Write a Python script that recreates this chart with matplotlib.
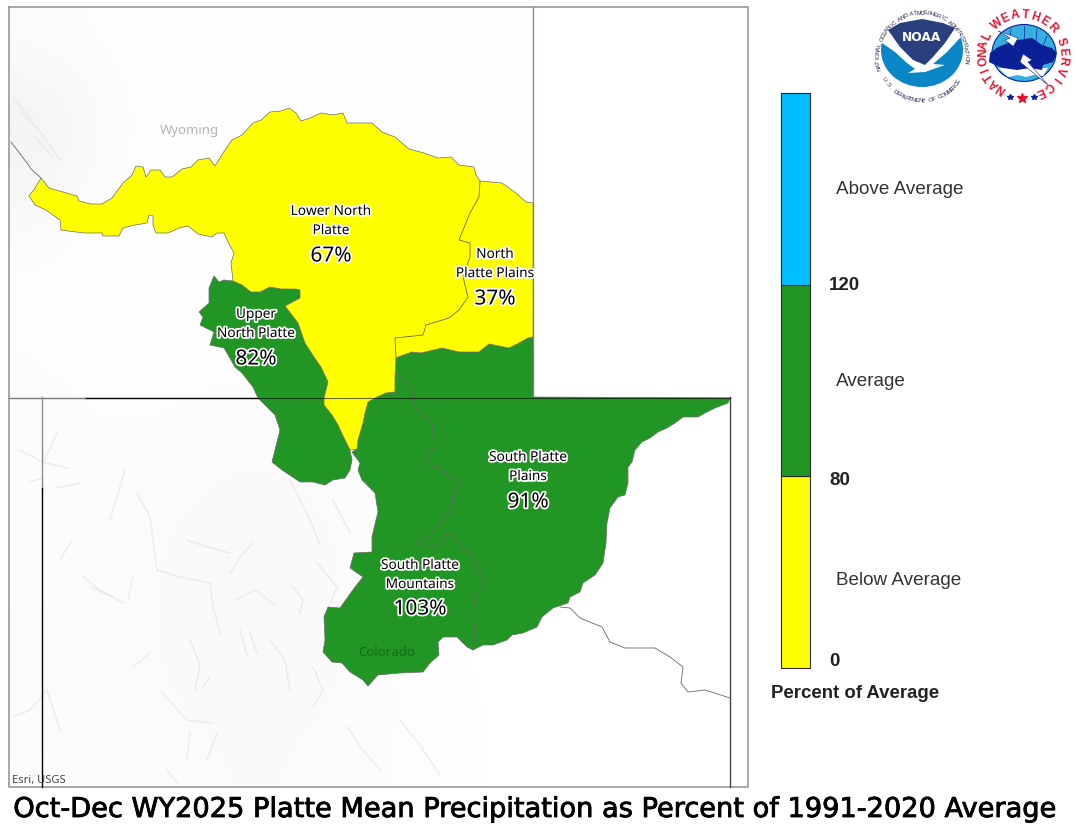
import numpy as np
import matplotlib
matplotlib.use("Agg")
import matplotlib.pyplot as plt
import matplotlib.patheffects as pe
from matplotlib.patches import Polygon, Ellipse

# basin outlines, in image pixels
lower_north_platte = [(41,178),(49,188),(63,192),(77,196),(79,201),(91,204),(102,204),(112,198),(123,183),(132,175),(136,166),(143,167),(146,177),(151,170),(160,170),(165,177),(172,177),(182,169),(191,167),(198,160),(209,158),(215,166),(223,153),(232,140),(242,135),(253,123),(261,120),(270,112),(281,111),(289,108),(296,113),(301,121),(310,118),(321,113),(333,115),(343,113),(347,123),(372,123),(382,132),(395,137),(409,149),(424,153),(438,158),(451,157),(459,165),(474,167),(476,175),(480,181),(502,183),(516,193),(526,202),(533,203),(533,337),(528,338),(519,343),(509,348),(489,344),(479,352),(459,352),(442,348),(421,353),(412,352),(398,357),(396,358),(395,377),(395,392),(386,393),(377,397),(368,402),(365,413),(363,423),(358,440),(357,449),(350,450),(345,440),(338,425),(332,415),(324,405),(324,398),(328,382),(321,367),(314,357),(305,343),(298,323),(285,306),(300,298),(300,290),(296,289),(281,289),(270,287),(260,292),(251,292),(242,285),(233,281),(231,263),(234,253),(228,242),(224,233),(217,233),(212,237),(198,234),(188,226),(179,228),(168,233),(156,233),(153,225),(153,216),(149,215),(147,223),(135,225),(123,228),(119,236),(103,236),(102,233),(84,233),(61,230),(60,220),(46,210),(35,205),(29,196),(35,188)]
upper_north_platte = [(214,276),(219,282),(224,280),(233,281),(242,285),(251,292),(260,292),(270,287),(281,289),(296,289),(300,290),(300,298),(285,306),(298,323),(305,343),(314,357),(321,367),(328,382),(324,398),(324,405),(332,415),(338,425),(345,440),(350,450),(352,460),(350,470),(345,478),(333,480),(325,485),(313,482),(300,482),(282,470),(272,462),(275,450),(280,430),(275,415),(265,405),(258,398),(253,387),(242,373),(235,367),(224,348),(210,345),(214,332),(200,325),(203,317),(199,312),(209,303),(209,288)]
south_platte = [(396,358),(398,357),(412,352),(421,353),(442,348),(459,352),(479,352),(489,344),(509,348),(519,343),(528,338),(533,337),(533,397),(730,398),(728,403),(715,408),(705,413),(698,417),(683,417),(675,423),(667,428),(658,432),(650,438),(642,442),(635,450),(632,462),(628,467),(628,483),(625,495),(618,497),(610,508),(607,523),(606,543),(603,563),(595,575),(583,583),(580,592),(570,597),(568,603),(553,608),(542,617),(537,627),(523,633),(512,635),(507,640),(493,645),(483,645),(473,650),(467,647),(457,637),(443,637),(438,642),(439,655),(430,663),(423,672),(400,673),(378,675),(368,686),(363,680),(350,672),(342,663),(332,662),(323,652),(325,640),(324,617),(328,607),(340,608),(355,587),(363,577),(350,568),(354,553),(372,552),(372,537),(376,520),(378,512),(375,493),(362,480),(358,470),(360,463),(352,452),(357,449),(358,440),(363,423),(365,413),(368,402),(377,397),(386,393),(395,392),(395,377)]

# thin lines inside and outside the basins
plains_mountains_line = [(396,372),(405,380),(412,392),(413,403),(422,415),(432,422),(434,450),(426,452),(426,465),(440,467),(448,477),(462,482),(452,492),(453,507),(443,520),(427,538),(417,543),(427,546),(437,546),(447,534),(457,540),(463,550),(472,555),(482,577),(482,587),(475,597),(473,613),(475,633),(473,650)]
north_plains_line = [(480,181),(479,197),(470,213),(459,240),(470,243),(470,257),(463,277),(468,297),(459,310),(449,318),(426,325),(423,335),(395,338),(396,358)]
wy_basin_line = [(11,142),(21,155),(32,170),(41,178)]
co_basin_line = [(560,607),(570,608),(580,618),(602,627),(610,642),(625,648),(655,648),(670,657),(683,667),(681,683),(688,692),(705,690),(730,698)]

# hillshade, only a faint impression of it
terrain_shade = [
    [.985,.99,.995,.995,.995,.995,.995,.995,.995,1.,1.,1.],
    [.95,.98,.995,.995,.995,.995,.995,.995,.995,1.,1.,1.],
    [.96,.985,.995,.995,.995,.995,.995,.995,.995,1.,1.,1.],
    [.99,.995,.995,.995,.995,.995,.995,.995,.995,1.,1.,1.],
    [.99,.995,.995,.995,.995,.995,.995,.995,.995,1.,1.,1.],
    [.985,.99,.99,.985,.99,.995,.995,1.,1.,1.,1.,1.],
    [.985,.985,.985,.98,.98,.985,.995,1.,1.,1.,1.,1.],
    [.985,.985,.98,.975,.975,.98,.995,1.,1.,1.,1.,1.],
    [.985,.985,.98,.975,.975,.98,.995,1.,1.,1.,1.,1.],
    [.98,.985,.98,.975,.975,.98,.99,.995,1.,1.,1.,1.],
    [.985,.985,.985,.98,.98,.985,.99,.995,1.,1.,1.,1.],
]
hill_ridges = [
    [(20,450),(43,462),(67,468)], [(30,482),(43,478)], [(57,488),(80,483)], [(43,462),(53,443),(57,433)],
    [(83,577),(100,590),(123,603)], [(90,587),(113,597)], [(133,577),(128,600)],
    [(157,570),(180,577),(210,583)], [(210,583),(213,607),(220,633)], [(250,633),(257,653)],
    [(240,630),(247,655)], [(133,667),(150,653)], [(187,540),(207,547),(230,553)],
    [(230,573),(240,557),(253,543)], [(293,587),(303,600),(300,613)], [(313,667),(323,690),(313,707)],
    [(160,690),(187,720),(213,723)], [(210,677),(203,687)], [(190,733),(187,760)], [(217,733),(207,760)],
    [(137,493),(150,517),(153,540),(157,570)], [(13,717),(30,710),(47,690),(60,730)],
    [(347,727),(363,750),(380,770)], [(167,770),(177,783)], [(333,500),(350,533)],
    [(317,563),(337,587),(330,603)], [(21,113),(39,130),(60,160)], [(14,100),(32,120)], [(35,137),(53,157)],
    [(270,640),(285,660),(290,690)], [(235,600),(255,590),(275,605)], [(190,640),(200,665),(195,690)],
    [(60,560),(72,540)], [(110,520),(125,470)], [(400,720),(420,745),(440,775)], [(290,480),(310,520),(320,545)],
]

# labels
basin_names = ["Lower North\nPlatte", "North\nPlatte Plains", "Upper\nNorth Platte", "South Platte\nPlains", "South Platte\nMountains"]
basin_pct = ["67%", "37%", "82%", "91%", "103%"]
name_xy = [(331,221), (495,264), (256,324), (528,467), (420,575)]
pct_xy = [(331,256), (495,299), (256,359), (528,502), (420,609)]

legend_colors = ["#ffff00", "#229625", "#00bfff"]
legend_classes = ["Below Average", "Average", "Above Average"]
legend_breaks = ["0", "80", "120"]

title = "Oct-Dec WY2025 Platte Mean Precipitation as Percent of 1991-2020 Average"
W, H = 1076, 834

fig = plt.figure(figsize=(W/100, H/100), dpi=100, facecolor="white")
ax = fig.add_axes([0, 0, 1, 1])
ax.axis("off")

# map background
ax.imshow(terrain_shade, cmap="gray", vmin=0, vmax=1, extent=(9, 748, 787, 7),
          interpolation="bicubic", aspect="auto", zorder=0)
ax.set_xlim(0, W)
ax.set_ylim(H, 0)
for r in hill_ridges:
    ax.plot(*zip(*r), color="#e4e2de", lw=1.1, alpha=.6, zorder=1)

# state lines and frame
ax.plot([9, 748, 748, 9, 9], [7, 7, 787, 787, 7], color="#9a9a9a", lw=1.2, zorder=2)
ax.plot([533, 533], [7, 397], color="#8c8c8c", lw=1, zorder=2)
ax.plot([85, 730], [397.5, 397.5], color="black", lw=1, zorder=2)
ax.plot([9, 85], [397.5, 397.5], color="#777777", lw=1, zorder=2)
ax.plot([42, 42], [397, 488], color="#8c8c8c", lw=1, zorder=2)
ax.plot([42, 42], [488, 787], color="black", lw=1, zorder=2)
ax.plot([730, 730], [397, 787], color="#444444", lw=1, zorder=2)

for line in (wy_basin_line, co_basin_line):
    ax.plot(*zip(*line), color="#666666", lw=.6, zorder=2)

ax.add_patch(Polygon(upper_north_platte, fc=legend_colors[1], ec="#6b6b6b", lw=.5, zorder=3))
ax.add_patch(Polygon(south_platte, fc=legend_colors[1], ec="#6b6b6b", lw=.5, zorder=3))
ax.add_patch(Polygon(lower_north_platte, fc=legend_colors[0], ec="#6b6b6b", lw=.5, zorder=3))
ax.plot(*zip(*plains_mountains_line), color="#666666", lw=.6, zorder=4)
ax.plot(*zip(*north_plains_line), color="#666666", lw=.6, zorder=4)
ax.plot([258, 730], [397.5, 397.5], color="black", lw=.8, alpha=.6, zorder=4)

halo = [pe.withStroke(linewidth=2.5, foreground="white")]
for name, (x, y) in zip(basin_names, name_xy):
    ax.text(x, y, name, ha="center", va="center", fontsize=9.8, family="Noto Sans",
            weight="bold", linespacing=1.38, color="black", path_effects=halo, zorder=6)
for pct, (x, y) in zip(basin_pct, pct_xy):
    ax.text(x, y, pct, ha="center", va="center", fontsize=15, family="Noto Sans",
            weight="bold", color="black", path_effects=halo, zorder=6)

ax.text(189, 130, "Wyoming", ha="center", va="center", fontsize=9.5, color="#b5b5b5", family="Noto Sans", zorder=5)
ax.text(387, 652, "Colorado", ha="center", va="center", fontsize=9.5, color="#166a1a", family="Noto Sans", zorder=5)
ax.text(12, 781, "Esri, USGS", ha="left", va="center", fontsize=8, color="#444444", family="Noto Sans", zorder=5)

ax.text(536, 810, title, ha="center", va="center", fontsize=19.6, color="black",
        family="DejaVu Sans", path_effects=[pe.withStroke(linewidth=.6, foreground="black")])

# legend bar
cb = fig.add_axes([781/W, 1-668/H, 29/W, 575/H])
cb.bar([0, 0, 0], [1, 1, 1], bottom=[0, 1, 2], width=1, color=legend_colors, edgecolor="#2a2a2a", lw=.8, clip_on=False)
cb.set_xlim(-.5, .5)
cb.set_ylim(0, 3)
cb.axis("off")
class_shift = [-8, -1, -1]
break_shift = [6, -4, -1]
for i, s in enumerate(legend_classes):
    cb.annotate(s, (1, i + .5), xycoords=("axes fraction", "data"), xytext=(26, class_shift[i]), textcoords="offset pixels",
                va="center", fontsize=13.6, family="Liberation Sans", color="#333333", annotation_clip=False)
for i, s in enumerate(legend_breaks):
    cb.annotate(s, (1, i), xycoords=("axes fraction", "data"), xytext=(19, break_shift[i]), textcoords="offset pixels",
                va="center", fontsize=13.5, family="Liberation Sans", weight="bold", color="#222222", annotation_clip=False)
ax.text(855, 694, "Percent of Average", ha="center", va="center", fontsize=13.4,
        family="Liberation Sans", weight="bold", color="#222222")


def ring_text(s, cx, cy, r, start, end, flip=True, **kw):
    # one character at a time, angles in degrees clockwise from north
    for ch, a in zip(s, np.linspace(start, end, len(s))):
        t = np.deg2rad(a)
        rot = 180 - a if flip else -a
        ax.text(cx + r*np.sin(t), cy - r*np.cos(t), ch, rotation=rot, rotation_mode="anchor",
                ha="center", va="center", **kw)


# NOAA logo
nx, ny = 922, 57
ax.add_patch(Ellipse((922, 50), 82, 74, fc="#0a86c6", ec="none", zorder=5))
ax.add_patch(Polygon([(878,10),(966,10),(966,38),(960,38),(947,52),(933,64),(945,65),(925,72),(908,73),(915,69),(907,63),(895,52),(882,43),(878,43)],
                     fc="white", ec="none", zorder=6))
ax.add_patch(Polygon([(888,30),(900,23),(922,19),(943,23),(955,28),(945,43),(933,57),(925,65),(913,60),(900,47)],
                     fc="#2a3f7e", ec="none", zorder=7))
ax.text(922, 37, "NOAA", ha="center", va="center", fontsize=8.8, color="white", weight="bold", family="DejaVu Sans", zorder=8)
ring_text("NATIONAL OCEANIC AND ATMOSPHERIC ADMINISTRATION", nx, ny, 44, -105, 96, flip=False,
          fontsize=4.5, color="#2a2f55", family="Liberation Sans", zorder=8)
ring_text("U.S. DEPARTMENT OF COMMERCE", nx, ny, 44, 240, 124,
          fontsize=4.5, color="#2a2f55", family="Liberation Sans", zorder=8)

# NWS logo
wx, wy = 1023, 55
ax.add_patch(Ellipse((1024, 53), 64, 57, fc="#35aee0", ec="#0b1f96", lw=.8, zorder=5))
for a, b in [((1011,29),(1010,41)), ((1024,26),(1024,40)), ((1037,29),(1036,41)), ((1047,36),(1043,46))]:
    ax.plot(*zip(a, b), color="#0b1f96", lw=.5, zorder=6)
ax.add_patch(Polygon([(998,68),(1048,68),(1043,76),(1034,75),(1026,77),(1018,75),(1008,77)], fc="white", ec="none", zorder=6))
ax.add_patch(Polygon([(989,62),(990,53),(998,47),(1008,43),(1018,40),(1032,38),(1042,45),(1052,48),(1057,53),(1053,62),(1043,65),(1042,70),(1030,68),(1017,70),(1003,68),(995,65)],
                     fc="#0b1f96", ec="none", zorder=7))
ax.add_patch(Polygon([(998,31),(1018,38),(1013,47),(1032,60),(1028,62),(1048,85),(1020,62),(1023,54),(1005,40),(1010,38)],
                     fc="white", ec="#0b1f96", lw=.4, zorder=8))
ws_kw = dict(flip=False, fontsize=8.5, color="#e8112d", weight="bold", family="Liberation Sans", zorder=8)
ring_text("NATIONAL", wx, wy, 40, -147, -63, **ws_kw)
ring_text("WEATHER", wx, wy, 40, -40, 47, **ws_kw)
ring_text("SERVICE", wx, wy, 40, 71, 154, **ws_kw)
ax.plot([1010, 1034], [97, 97], ls="none", marker="*", ms=4, color="#0b1f96", zorder=8)
ax.plot([1022], [98], ls="none", marker="*", ms=7, color="#e8112d", zorder=8)

fig.savefig("out.png", dpi=100)
